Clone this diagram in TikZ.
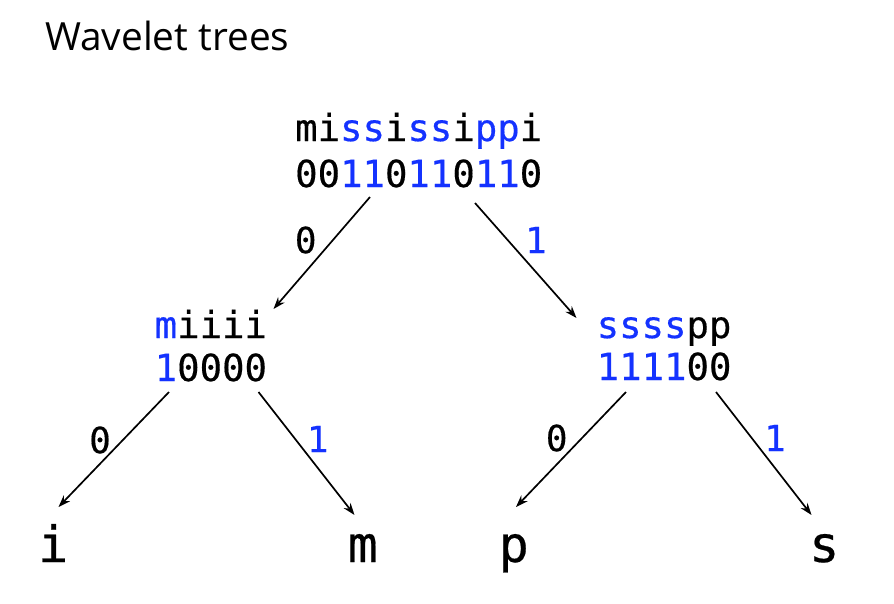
\documentclass[tikz,border=0pt]{standalone}
\usepackage{fontspec}
\setmainfont{Open Sans}
\newfontfamily\monofont[FakeBold=0.4]{DejaVu Sans Mono}
\usetikzlibrary{arrows.meta}
\definecolor{bitblue}{RGB}{20,50,255}
\newcommand{\Bl}[1]{\textcolor{bitblue}{#1}}
\tikzset{
  seq/.style={inner sep=0pt, anchor=base west, font=\monofont\fontsize{37.3}{40}\selectfont},
  leaf/.style={inner sep=0pt, anchor=base west, font=\monofont\fontsize{50}{55}\selectfont},
  lab/.style={inner sep=0pt, font=\monofont\fontsize{36}{38}\selectfont},
  arr/.style={-{Stealth[length=12pt,width=8.5pt]}, line width=1.7pt},
  titlestyle/.style={inner sep=0pt, anchor=base west, font=\fontsize{38.8}{44}\selectfont},
}
\begin{document}
\begin{tikzpicture}[x=1pt,y=-1pt]
\useasboundingbox (0,0) rectangle (894,603);
\node[titlestyle] (title) at (45,50.7) {Wavelet trees};
% root
\node[seq] (r1) at (295,141) {mi\Bl{ss}i\Bl{ss}i\Bl{pp}i};
\node[seq] (r2) at (295,187) {00\Bl{11}0\Bl{11}0\Bl{11}0};
% left internal
\node[seq] (l1) at (154.5,338) {\Bl{m}iiii};
\node[seq] (l2) at (154.5,381) {\Bl{1}0000};
% right internal
\node[seq] (q1) at (596.5,338) {\Bl{ssss}pp};
\node[seq] (q2) at (596.5,380) {\Bl{1111}00};
% leaves
\node[leaf] (li) at (38,562) {i};
\node[leaf] (lm) at (347.5,562) {m};
\node[leaf] (lp) at (498.5,562) {p};
\node[leaf] (ls) at (809,562) {s};
% arrow end points
\coordinate (r-a) at (370,197);
\coordinate (r-b) at (475,203);
\coordinate (l-in) at (273.5,309);
\coordinate (q-in) at (576.5,318);
\coordinate (l-a) at (169,392);
\coordinate (l-b) at (258.5,392);
\coordinate (q-a) at (626,392);
\coordinate (q-b) at (716,392);
\coordinate (li-in) at (58.5,507);
\coordinate (lm-in) at (354.5,515);
\coordinate (lp-in) at (516,507);
\coordinate (ls-in) at (811.5,515);
\draw[arr] (r-a) -- (l-in);
\draw[arr] (r-b) -- (q-in);
\draw[arr] (l-a) -- (li-in);
\draw[arr] (l-b) -- (lm-in);
\draw[arr] (q-a) -- (lp-in);
\draw[arr] (q-b) -- (ls-in);
% edge labels
\node[lab] (e1) at (305.7,240) {0};
\node[lab] (e2) at (536,240) {\Bl{1}};
\node[lab] (e3) at (100,440) {0};
\node[lab] (e4) at (317.7,439) {\Bl{1}};
\node[lab] (e5) at (556.7,438) {0};
\node[lab] (e6) at (775,438) {\Bl{1}};
\end{tikzpicture}
\end{document}
